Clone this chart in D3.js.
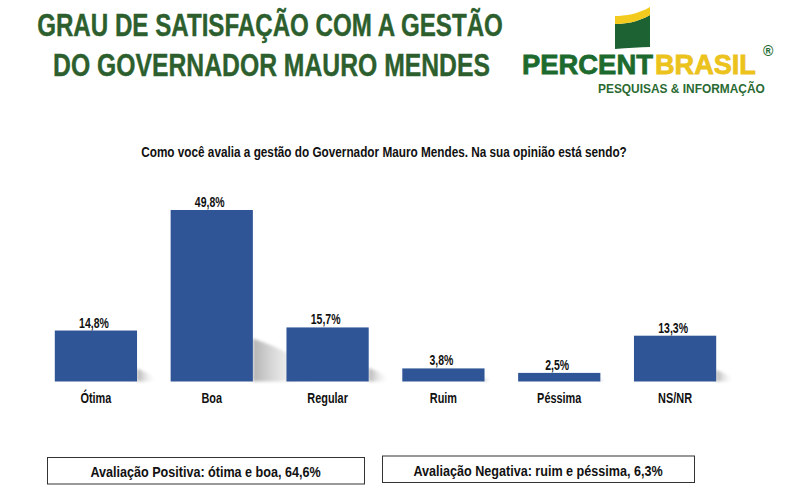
<!DOCTYPE html>
<html><head><meta charset="utf-8">
<script src="https://cdn.jsdelivr.net/npm/d3@7"></script>
<style>
body{margin:0;background:#fff;}
svg{display:block;}
text{font-family:'Liberation Sans',Arial,sans-serif;font-weight:bold;}
</style></head>
<body>
<script>
const categories = ["Ótima","Boa","Regular","Ruim","Péssima","NS/NR"];
const values = [14.8,49.8,15.7,3.8,2.5,13.3];
const valueLabels = ["14,8%","49,8%","15,7%","3,8%","2,5%","13,3%"];
const titleLines = ["GRAU DE SATISFAÇÃO COM A GESTÃO","DO GOVERNADOR MAURO MENDES"];
const subtitle = "Como você avalia a gestão do Governador Mauro Mendes. Na sua opinião está sendo?";
const summaries = ["Avaliação Positiva: ótima e boa, 64,6%","Avaliação Negativa: ruim e péssima, 6,3%"];

const W=800,H=503;
const svg=d3.select("body").append("svg").attr("width",W).attr("height",H);
const defs=svg.append("defs");
const grad=defs.append("linearGradient").attr("id","sh").attr("x1","0").attr("x2","1").attr("y1","0").attr("y2","0");
grad.append("stop").attr("offset","0").attr("stop-color","#a9a9a9");
grad.append("stop").attr("offset","1").attr("stop-color","#ffffff").attr("stop-opacity","0");
defs.append("filter").attr("id","blur").append("feGaussianBlur").attr("stdDeviation",1.5);

// place text at (x,y) horizontally scaled to a target width (or ratio) via transform
function place(sel,x,y,widthFn){
  sel.each(function(d,i){
    const t=d3.select(this);
    const w=this.getComputedTextLength();
    const target=widthFn(d,i,w);
    const sx=target/w;
    t.attr("x",0).attr("y",0)
     .attr("transform",`translate(${typeof x==="function"?x(d,i):x},${typeof y==="function"?y(d,i):y}) scale(${sx},1)`);
  });
}

// Title
const green="#2c5f2d";
const tl=[{x:270,y:36,len:466},{x:271.5,y:76,len:437}];
const tt=svg.selectAll("text.title").data(titleLines).join("text").attr("class","title")
  .attr("text-anchor","middle")
  .attr("font-size",31).attr("fill",green).attr("stroke",green).attr("stroke-width",0.4).text(d=>d);
place(tt,(d,i)=>tl[i].x,(d,i)=>tl[i].y,(d,i)=>tl[i].len);

// Logo
const lg=svg.append("g");
lg.append("path").attr("d","M615,24 C625,24 638,22 650,15 L650,47 C640,47 628,48 615,49 Z").attr("fill","#1d6232");
lg.append("path").attr("d","M615,16 C625,16 638,14 650,7 L650,15 C638,22 625,24 615,24 Z").attr("fill","#f2cb1e");
const p1=lg.append("text").attr("font-size",28).attr("fill","#1d6a2e")
  .attr("stroke","#1d6a2e").attr("stroke-width",0.8).text("PERCENT");
place(p1,522,74,()=>131);
const p2=lg.append("text").attr("font-size",28).attr("fill","#ecc21c")
  .attr("stroke","#ecc21c").attr("stroke-width",0.8).text("BRASIL");
place(p2,655,74,()=>101);
lg.append("text").attr("x",763).attr("y",56).attr("font-size",14).attr("fill","#1d6a2e")
  .attr("font-weight","normal").text("®");
const p3=lg.append("text").attr("font-size",12.5).attr("fill","#2a6a32").text("PESQUISAS & INFORMAÇÃO");
place(p3,598,93,()=>167);

// Subtitle
const st=svg.append("text").attr("text-anchor","middle").attr("font-size",14).attr("fill","#111").text(subtitle);
place(st,384,157,()=>486);

// Scales
const x=d3.scaleBand().domain(categories).range([38,733]).paddingInner(0.29).paddingOuter(0.145);
const y=d3.scaleLinear().domain([0,50]).range([381.5,381.5-172.2]);
const b=y(0);

// Shadows
svg.append("g").attr("filter","url(#blur)").selectAll("path").data(categories).join("path")
  .attr("d",(d,i)=>{const x1=x(d)+x.bandwidth(); const h=b-y(values[i]);
    return `M${x1},${b} L${x1},${b-0.25*h} C${x1+0.15*h},${b-0.2*h} ${x1+0.3*h},${b-0.12*h} ${x1+0.4*h},${b-0.05*h} L${x1+0.4*h},${b} Z`;})
  .attr("fill","url(#sh)").attr("opacity",0.9);

// Bars
svg.append("g").selectAll("rect").data(categories).join("rect")
  .attr("x",d=>x(d)).attr("width",x.bandwidth())
  .attr("y",(d,i)=>y(values[i])).attr("height",(d,i)=>b-y(values[i])).attr("fill","#2f5597");

// Value labels
const vl=svg.append("g").selectAll("text").data(categories).join("text")
  .attr("text-anchor","middle").attr("font-size",15).attr("fill","#111").text((d,i)=>valueLabels[i]);
place(vl,d=>x(d)+x.bandwidth()/2-2,(d,i)=>y(values[i])-3,(d,i,w)=>w*0.7);

// Category axis
const ax=svg.append("g").attr("transform",`translate(0,${b})`)
  .call(d3.axisBottom(x).tickSize(0).tickPadding(12));
ax.select(".domain").remove();
ax.selectAll("text").attr("font-size",14).attr("fill","#111")
  .attr("font-family","'Liberation Sans',Arial,sans-serif")
  .attr("transform","scale(0.78,1)");

// Summary boxes
const boxes=[{x:47,y:457.5,w:317,h:26.5,ty:477},{x:382,y:456,w:312,h:26.5,ty:475.5}];
const bg=svg.append("g").selectAll("g").data(summaries).join("g");
bg.append("rect").attr("x",(d,i)=>boxes[i].x+0.5).attr("y",(d,i)=>boxes[i].y).attr("width",(d,i)=>boxes[i].w)
  .attr("height",(d,i)=>boxes[i].h).attr("fill","#fff").attr("stroke","#333").attr("stroke-width",1);
const bt=bg.append("text").attr("text-anchor","middle").attr("font-size",14).attr("fill","#111").text(d=>d);
place(bt,(d,i)=>boxes[i].x+boxes[i].w/2,(d,i)=>boxes[i].ty,(d,i,w)=>w*0.9);
</script>
</body></html>
